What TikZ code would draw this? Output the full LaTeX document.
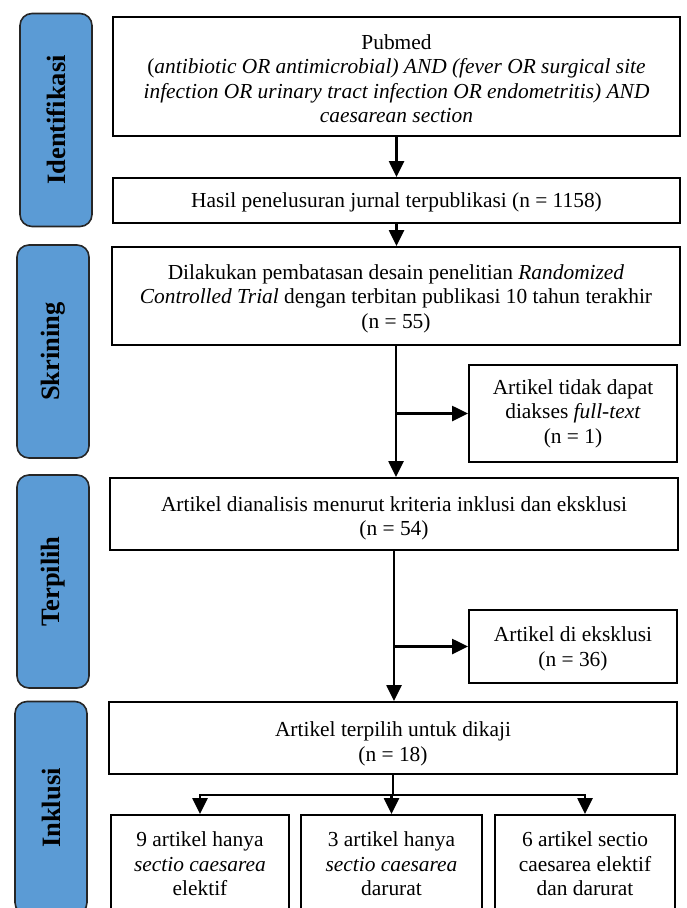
\documentclass[tikz,border=0pt]{standalone}
\usepackage{fontspec}
\setmainfont{Liberation Serif}
\usepackage{xcolor}
\usepackage{tikz}
\usetikzlibrary{arrows.meta, positioning, calc}
\definecolor{stageblue}{HTML}{5B9BD5}
\tikzset{
    stage/.style={rectangle, rounded corners=12pt, draw=black!85, line width=1.6pt, fill=stageblue, minimum width=213pt, minimum height=72pt, inner sep=0pt, rotate=90, font=\fontsize{26.5}{30}\selectfont\bfseries},
    mainbox/.style={rectangle, draw, line width=2pt, align=center, inner sep=0pt, font=\fontsize{21.4}{24.5}\selectfont},
    flow/.style={-{Triangle[length=16pt, width=15pt]}, line width=2.6pt},
    link/.style={line width=2.6pt},
}

\begin{document}
\begin{tikzpicture}[x=1pt, y=-1pt]
\useasboundingbox (0,0) rectangle (687,908);
\clip (0,0) rectangle (687,908);

% === STAGES ===
\node[stage] (idf) at (56, 120) {Identifikasi};
\node[stage] (skr) at (53, 351.5) {Skrining};
\node[stage] (trp) at (53, 581.5) {Terpilih};
\node[stage] (ink) at (51, 808) {Inklusi};

% === MAIN FLOW ===
\node[mainbox, minimum width=567pt, minimum height=119pt] (search) at (396.5, 76.5)
    {\rule{0pt}{19pt}Pubmed\\ (\textit{antibiotic OR antimicrobial) AND (fever OR surgical site}\\
     \textit{infection OR urinary tract infection OR endometritis) AND}\\
     \textit{caesarean section}};
\node[mainbox, minimum width=567pt, minimum height=45pt] (hasil) at (396.5, 200.5)
    {\rule{0pt}{19pt}Hasil penelusuran jurnal terpublikasi (n = 1158)};
\node[mainbox, minimum width=568pt, minimum height=98pt] (rct) at (396, 296)
    {\rule{0pt}{20pt}Dilakukan pembatasan desain penelitian \textit{Randomized}\\
     \textit{Controlled Trial} dengan terbitan publikasi 10 tahun terakhir\\ (n = 55)};
\node[mainbox, minimum width=568pt, minimum height=72pt] (anls) at (394, 514)
    {\rule{0pt}{24pt}Artikel dianalisis menurut kriteria inklusi dan eksklusi\\ (n = 54)};
\node[mainbox, minimum width=568pt, minimum height=72pt] (pilih) at (393, 738)
    {\rule{0pt}{27pt}Artikel terpilih untuk dikaji\\ (n = 18)};

% === EXCLUDED ===
\node[mainbox, minimum width=208pt, minimum height=97pt] (noft) at (573, 413.5)
    {Artikel tidak dapat\\ diakses \textit{full-text}\\ (n = 1)};
\node[mainbox, minimum width=208pt, minimum height=73pt] (eksk) at (573, 646.5)
    {\rule{0pt}{20pt}Artikel di eksklusi\\ (n = 36)};

% === INCLUDED GROUPS ===
\node[mainbox, minimum width=178pt, minimum height=98pt] (elek) at (200, 864)
    {9 artikel hanya\\ \textit{sectio caesarea}\\ elektif};
\node[mainbox, minimum width=181pt, minimum height=98pt] (daru) at (391.5, 864)
    {3 artikel hanya\\ \textit{sectio caesarea}\\ darurat};
\node[mainbox, minimum width=180pt, minimum height=98pt] (both) at (585, 864)
    {6 artikel sectio\\ caesarea elektif\\ dan darurat};

% === ARROWS ===
\draw[flow] (search.south) -- (search.south |- hasil.north);
\draw[flow] (hasil.south) -- (hasil.south |- rct.north);
\draw[flow] (rct.south) -- (rct.south |- anls.north);
\coordinate (j1) at (rct.south |- noft.west);
\draw[flow] (j1) -- (noft.west);
\draw[flow] (anls.south) -- (anls.south |- pilih.north);
\coordinate (j2) at (anls.south |- eksk.west);
\draw[flow] (j2) -- (eksk.west);

% split to the three groups
\coordinate (split) at ($(pilih.south)+(0,20)$);
\draw[link] (pilih.south) -- (split);
\draw[flow] (split) -| (elek.north);
\draw[flow] (split) -| (daru.north);
\draw[flow] (split) -| (both.north);

\end{tikzpicture}
\end{document}
